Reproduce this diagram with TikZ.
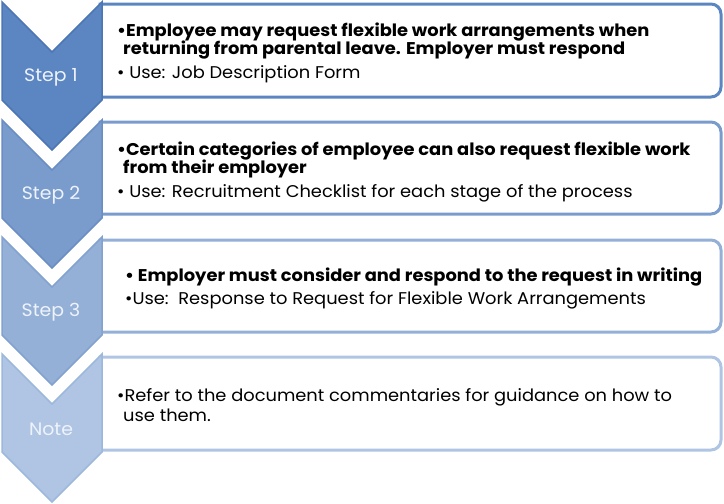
\documentclass[tikz,border=0pt]{standalone}
\usepackage{fontspec}
\setmainfont{Poppins}[FakeStretch=1.05]
\usepackage{tikz}
\definecolor{stepA}{RGB}{91,134,193}
\definecolor{stepAline}{RGB}{76,118,180}
\definecolor{stepB}{RGB}{122,156,205}
\definecolor{stepBline}{RGB}{106,142,196}
\definecolor{stepC}{RGB}{148,176,215}
\definecolor{stepCline}{RGB}{131,162,207}
\definecolor{stepD}{RGB}{175,197,227}
\definecolor{stepDline}{RGB}{157,184,220}
\definecolor{labeltext}{RGB}{238,243,250}
\tikzset{
  chevron/.style={line width=1.5pt, line join=miter},
  panel/.style={fill=white, line width=3pt},
  steplabel/.style={text=labeltext, font=\fontsize{18}{21}\selectfont},
  bodytext/.style={anchor=base west, inner sep=0pt, text=black, font=\fontsize{17}{20}\selectfont},
}

\begin{document}
\begin{tikzpicture}[x=1pt, y=-1pt]
  \useasboundingbox (0,0) rectangle (724,504);
  % text panels, rounded on the right only
  \draw [panel, draw=stepA] (100,4) [rounded corners=10pt] -- (721,4) -- (721,97) [sharp corners] -- (100,97) -- cycle;
  \draw [panel, draw=stepB] (100,122) [rounded corners=10pt] -- (721,122) -- (721,214) [sharp corners] -- (100,214) -- cycle;
  \draw [panel, draw=stepC] (100,240) [rounded corners=10pt] -- (721,240) -- (721,332) [sharp corners] -- (100,332) -- cycle;
  \draw [panel, draw=stepD] (100,357) [rounded corners=10pt] -- (721,357) -- (721,450) [sharp corners] -- (100,450) -- cycle;
  % chevrons
  \draw [chevron, fill=stepA, draw=stepAline] (2,2) -- (52,52) -- (102,2) -- (102,100) -- (52,150) -- (2,100) -- cycle;
  \draw [chevron, fill=stepB, draw=stepBline] (2,120) -- (52,170) -- (102,120) -- (102,218) -- (52,268) -- (2,218) -- cycle;
  \draw [chevron, fill=stepC, draw=stepCline] (2,237) -- (52,287) -- (102,237) -- (102,335) -- (52,385) -- (2,335) -- cycle;
  \draw [chevron, fill=stepD, draw=stepDline] (2,354) -- (52,404) -- (102,354) -- (102,452) -- (52,502) -- (2,452) -- cycle;
  \node [steplabel] (lab1) at (51,77) {Step 1};
  \node [steplabel] (lab2) at (51,195) {Step 2};
  \node [steplabel] (lab3) at (51,312) {Step 3};
  \node [steplabel] (lab4) at (51,429) {Note};
  % step 1
  \node [bodytext] (s1a) at (117,36) {\textbf{•Employee may request flexible work arrangements when}};
  \node [bodytext] (s1b) at (123,54) {\textbf{returning from parental leave. Employer must respond}};
  \node [bodytext] (s1c) at (117,78) {• Use: Job Description Form};
  % step 2
  \node [bodytext] (s2a) at (117,155) {\textbf{•Certain categories of employee can also request flexible work}};
  \node [bodytext] (s2b) at (123,173) {\textbf{from their employer}};
  \node [bodytext] (s2c) at (117,197) {• Use: Recruitment Checklist for each stage of the process};
  % step 3
  \node [bodytext] (s3a) at (125,281) {\textbf{• Employer must consider and respond to the request in writing}};
  \node [bodytext] (s3b) at (125,304) {•Use:\ \ Response to Request for Flexible Work Arrangements};
  % note
  \node [bodytext] (s4a) at (117,401) {•Refer to the document commentaries for guidance on how to};
  \node [bodytext] (s4b) at (123,421) {use them.};
\end{tikzpicture}
\end{document}
